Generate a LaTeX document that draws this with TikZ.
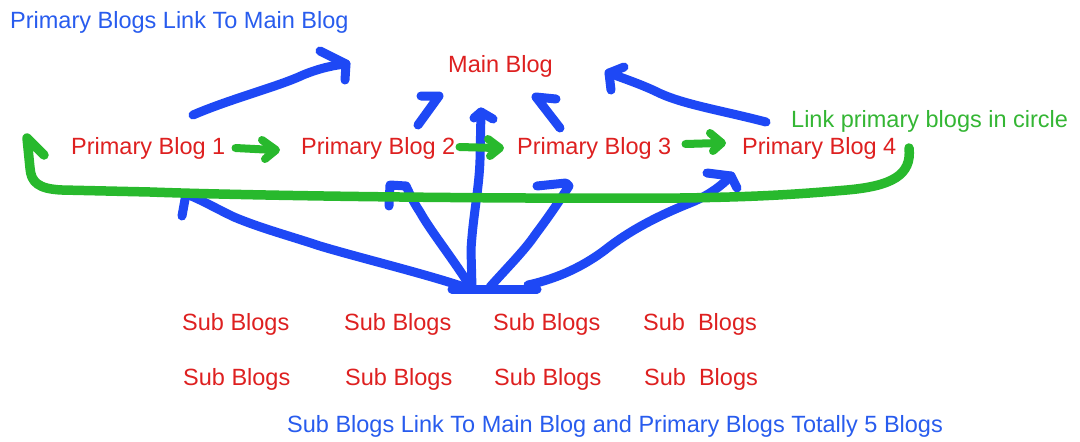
\documentclass[tikz,border=0pt]{standalone}
\usepackage{fontspec}
\setmainfont{Liberation Sans}
\definecolor{txtred}{RGB}{222,32,32}
\definecolor{txtblue}{RGB}{40,92,238}
\definecolor{strokeblue}{RGB}{30,72,245}
\definecolor{strokegreen}{RGB}{40,185,45}
\definecolor{txtgreen}{RGB}{52,182,52}
\begin{document}
\begin{tikzpicture}[x=1pt,y=-1pt,
  txt/.style={anchor=base west, inner sep=0pt, font=\fontsize{23.5}{28}\selectfont},
  redtxt/.style={txt, text=txtred},
  bluetxt/.style={txt, text=txtblue},
  greentxt/.style={txt, text=txtgreen},
  bluestroke/.style={draw=strokeblue, line width=9pt, line cap=round, line join=round},
  greenstroke/.style={draw=strokegreen, line width=9.5pt, line cap=round, line join=round},
  greenarrow/.style={draw=strokegreen, line width=8pt, line cap=round, line join=round}]
\useasboundingbox (0,0) rectangle (1080,442);
\fill[white] (0,0) rectangle (1080,442);

% texts
\node[bluetxt] (title) at (10,28.5) {Primary Blogs Link To Main Blog};
\node[redtxt] (main) at (448,72) {Main Blog};
\node[redtxt] (pb1) at (71,154) {Primary Blog 1};
\node[redtxt] (pb2) at (301,154) {Primary Blog 2};
\node[redtxt] (pb3) at (517,154) {Primary Blog 3};
\node[redtxt] (pb4) at (742,154) {Primary Blog 4};
\node[greentxt] (circ) at (791,127) {Link primary blogs in circle};
\node[redtxt] (sb11) at (182,330) {Sub Blogs};
\node[redtxt] (sb12) at (344,330) {Sub Blogs};
\node[redtxt] (sb13) at (493,330) {Sub Blogs};
\node[redtxt] (sb14) at (643,330) {Sub\ \ Blogs};
\node[redtxt] (sb21) at (183,385) {Sub Blogs};
\node[redtxt] (sb22) at (345,385) {Sub Blogs};
\node[redtxt] (sb23) at (494,385) {Sub Blogs};
\node[redtxt] (sb24) at (644,385) {Sub\ \ Blogs};
\node[bluetxt] (foot) at (287,432) {Sub Blogs Link To Main Blog and Primary Blogs Totally 5 Blogs};

% named stroke ends
\coordinate (s1) at (193,115);  \coordinate (t1) at (346,64);
\coordinate (s2) at (418,125);  \coordinate (t2) at (439,96);
\coordinate (t3) at (481,112);
\coordinate (s4) at (560,128);  \coordinate (t4) at (536,97);
\coordinate (s5) at (766,122);  \coordinate (t5) at (609,73);
\coordinate (hubA) at (452,289); \coordinate (hubB) at (537,289);
\coordinate (hL) at (470,289);  \coordinate (t6) at (186,194);
\coordinate (h7) at (468,283);  \coordinate (t7) at (390,185);
\coordinate (h8) at (490,287);  \coordinate (t8) at (569,186);
\coordinate (h9) at (528,285);  \coordinate (t9) at (731,176);
\coordinate (hV) at (472,288);

% blue strokes: primary blogs to main blog
\draw[bluestroke] (s1) .. controls (230,99) and (280,86) .. (303,75) .. controls (320,68) and (335,65) .. (t1);
\draw[bluestroke] (320,51) -- (t1) -- (345,80);
\draw[bluestroke] (s2) -- (t2) -- (421,96);
\draw[bluestroke] (s4) -- (t4) -- (556,99);
\draw[bluestroke] (s5) .. controls (720,110) and (680,104) .. (655,91) .. controls (640,84) and (625,79) .. (t5);
\draw[bluestroke] (624,67) -- (t5) -- (611,90);

% blue strokes: sub blogs to main and primary
\draw[bluestroke] (hubA) -- (hubB);
\draw[bluestroke] (hV) -- (471,250) .. controls (473,215) and (479,190) .. (480,160) -- (t3);
\draw[bluestroke] (474,118) -- (t3) -- (493,119);
\draw[bluestroke] (hL) .. controls (430,275) and (360,258) .. (320,246) .. controls (290,236) and (260,228) .. (234,217) .. controls (215,208) and (200,199) .. (t6);
\draw[bluestroke] (t6) -- (182,216);
\draw[bluestroke] (h7) .. controls (450,255) and (430,230) .. (420,212) .. controls (412,200) and (409,192) .. (406,186) -- (t7) -- (389,206);
\draw[bluestroke] (h8) .. controls (505,270) and (525,250) .. (535,235) .. controls (550,215) and (560,200) .. (t8) -- (566,183) -- (537,186);
\draw[bluestroke] (h9) .. controls (560,278) and (585,265) .. (605,250) .. controls (630,230) and (660,215) .. (690,203) .. controls (710,195) and (722,185) .. (t9);
\draw[bluestroke] (707,173) -- (t9) -- (737,188);

% green strokes: primary blogs in circle
\draw[greenarrow] (pb1.base east) ++(10,-6) coordinate (g1s) -- (274,150);
\draw[greenarrow] (262,140) -- (276,150) -- (265,159);
\draw[greenarrow] (pb2.base east) ++(4,-7) coordinate (g2s) -- (496,148);
\draw[greenarrow] (488,139) -- (500,148) -- (490,156);
\draw[greenarrow] (pb3.base east) ++(14,-10) coordinate (g3s) -- (719,143);
\draw[greenarrow] (710,133) -- (722,143) -- (713,151);
\coordinate (gstart) at (909,148);
\coordinate (gtip) at (27,138);
\draw[greenstroke] (gstart) .. controls (912,175) and (892,186) .. (847,190)
   .. controls (800,194) and (760,197) .. (680,198)
   .. controls (500,199) and (260,196) .. (150,192)
   -- (62,190) .. controls (38,189) and (31,182) .. (30,168) -- (gtip) -- (44,155);
\end{tikzpicture}
\end{document}
